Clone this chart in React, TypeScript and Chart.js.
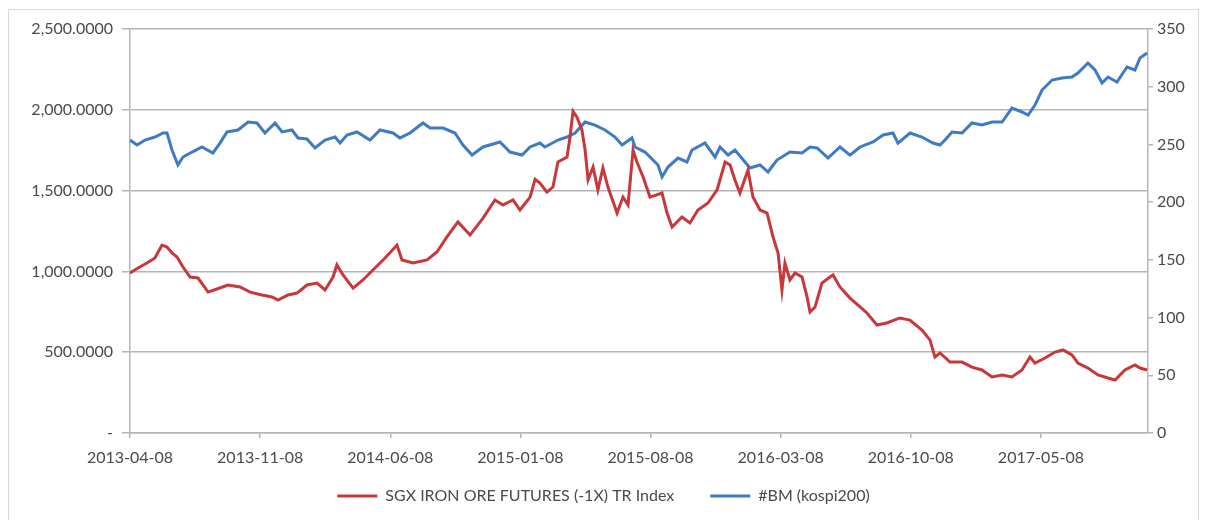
import { useEffect, useRef } from 'react';
import { Chart, registerables } from 'chart.js';

Chart.register(...registerables);

// x positions are months elapsed since 2013-04-08
const xTickMonths = [0, 7, 14, 21, 28, 35, 42, 49];
const xTickLabels = ['2013-04-08', '2013-11-08', '2014-06-08', '2015-01-08', '2015-08-08', '2016-03-08', '2016-10-08', '2017-05-08'];
const xMaxMonths = 54.76;

const leftTickLabels = ['-', '500.0000', '1,000.0000', '1,500.0000', '2,000.0000', '2,500.0000'];
const rightTickLabels = ['0', '50', '100', '150', '200', '250', '300', '350'];

const ironLabel = 'SGX IRON ORE FUTURES (-1X) TR Index';
const ironMonths = [
  0, 0.43, 0.91, 1.34, 1.72, 1.99, 2.26, 2.53, 2.85, 3.23, 3.66, 4.2, 4.68, 5.27, 5.92, 6.46, 7.1, 7.64, 7.96, 8.5,
  8.98, 9.52, 10.06, 10.49, 10.92, 11.13, 11.46, 12.0, 12.53, 13.07, 13.72, 14.36, 14.63, 15.22, 15.98, 16.51, 17.05,
  17.64, 18.29, 18.99, 19.63, 20.06, 20.6, 20.98, 21.52, 21.79, 22.05, 22.43, 22.75, 23.02, 23.51, 23.67, 23.83, 24.04,
  24.31, 24.48, 24.64, 24.91, 25.17, 25.44, 25.71, 26.2, 26.52, 26.79, 27.06, 27.27, 27.6, 27.97, 28.62, 28.89, 29.16,
  29.69, 30.12, 30.55, 31.09, 31.58, 32.01, 32.28, 32.54, 32.81, 33.24, 33.51, 33.89, 34.27, 34.59, 34.86, 35.07,
  35.23, 35.5, 35.77, 36.15, 36.42, 36.58, 36.85, 37.22, 37.65, 37.82, 38.19, 38.73, 39.27, 39.64, 40.18, 40.71,
  41.41, 41.95, 42.6, 43.03, 43.3, 43.57, 44.11, 44.76, 45.29, 45.83, 46.37, 46.91, 47.44, 47.98, 48.41, 48.68, 49.22,
  49.76, 50.19, 50.67, 50.99, 51.53, 52.07, 52.61, 52.99, 53.52, 54.06, 54.33, 54.71,
];
const ironValues = [
  990, 1021, 1052, 1083, 1163, 1151, 1114, 1089, 1027, 965, 959, 872, 891, 916, 904, 872, 854, 842, 823, 854,
  866, 916, 928, 885, 965, 1040, 978, 897, 947, 1009, 1083, 1163, 1071, 1052, 1071, 1120, 1213,
  1306, 1225, 1330, 1442, 1411, 1442, 1380, 1460, 1570, 1547, 1491, 1522, 1677, 1708, 1832, 1990, 1955,
  1875, 1751, 1566, 1646, 1504, 1640, 1522, 1361, 1460, 1411, 1751, 1677, 1584, 1460, 1485, 1361, 1275,
  1337, 1300, 1380, 1423, 1504, 1677, 1658, 1566, 1485, 1627, 1460, 1380, 1361, 1213, 1114, 885,
  1052, 947, 990, 965, 842, 749, 780, 928, 965, 978, 904, 835, 780, 743, 668, 681,
  712, 699, 637, 576, 470, 495, 439, 439, 408, 390, 347, 359, 347, 390, 470, 433, 464,
  501, 514, 483, 433, 402, 359, 340, 328, 390, 421, 402, 390,
];

const kospiLabel = '#BM (kospi200)';
const kospiMonths = [
  0, 0.38, 0.81, 1.34, 1.78, 1.99, 2.26, 2.58, 2.85, 3.34, 3.87, 4.46, 4.84, 5.22, 5.81, 6.35, 6.83, 7.26, 7.8, 8.18,
  8.71, 9.04, 9.52, 9.95, 10.49, 11.03, 11.3, 11.67, 12.21, 12.91, 13.45, 14.15, 14.52, 15.06, 15.76, 16.14, 16.84,
  17.48, 17.91, 18.4, 18.99, 19.9, 20.44, 21.09, 21.52, 22.05, 22.32, 23.02, 23.51, 23.94, 24.48, 25.01, 25.55, 26.09,
  26.47, 27.0, 27.17, 27.7, 28.4, 28.62, 28.94, 29.48, 29.96, 30.23, 30.93, 31.47, 31.74, 32.17, 32.54, 33.08, 33.35,
  33.89, 34.32, 34.8, 35.5, 36.15, 36.58, 36.96, 37.55, 38.19, 38.73, 39.27, 39.97, 40.51, 41.04, 41.31, 41.96, 42.6,
  43.19, 43.57, 43.84, 44.22, 44.76, 45.29, 45.83, 46.37, 46.91, 47.44, 47.98, 48.31, 48.68, 49.06, 49.6, 50.13,
  50.67, 50.99, 51.53, 51.91, 52.29, 52.61, 53.09, 53.63, 54.06, 54.33, 54.71,
];
const kospiValues = [
  253.8, 249.5, 253.8, 256.4, 259.9, 259.9, 245.2, 232.2, 239.1, 243.4, 247.8, 242.6, 251.2, 260.8, 262.5, 269.4, 268.6, 259.9, 268.6, 260.8,
  262.5, 255.6, 254.7, 246.9, 253.8, 256.4, 251.2, 258.2, 260.8, 253.8, 262.5, 259.9, 255.6, 259.9, 268.6, 264.2, 264.2,
  259.9, 249.5, 240.8, 247.8, 252.1, 243.4, 240.8, 247.8, 251.2, 247.8, 253.8, 256.4, 259.9, 269.4, 266.8, 262.5, 256.4,
  249.5, 255.6, 247.8, 243.4, 232.2, 221.8, 230.4, 238.2, 234.8, 245.2, 251.2, 239.1, 247.8, 240.8, 245.2, 234.8, 229.6,
  232.2, 226.1, 236.5, 243.4, 242.6, 247.8, 246.9, 238.2, 247.8, 240.8, 247.8, 252.1, 258.2, 259.9, 251.2, 259.9, 256.4,
  251.2, 249.5, 253.8, 260.8, 259.9, 268.6, 266.8, 269.4, 269.4, 281.5, 278.1, 275.5, 284.1, 297.1, 305.8, 307.5,
  308.4, 311.9, 320.5, 314.5, 303.2, 308.4, 304.1, 317.1, 314.5, 324.9, 329.2,
];

const RED = '#C8373A';
const BLUE = '#3E7BC4';
const GRID = '#b5b5b5';
const TEXT = '#4a4a4a';
const FONT = 'Lato';

export default function App() {
  const ref = useRef<HTMLCanvasElement>(null);

  useEffect(() => {
    if (!ref.current) return;
    const chart = new Chart(ref.current, {
      type: 'line',
      data: {
        datasets: [
          {
            label: ironLabel,
            data: ironMonths.map((m, i) => ({ x: m, y: ironValues[i] })),
            borderColor: RED,
            backgroundColor: RED,
            borderWidth: 3,
            pointRadius: 0,
            tension: 0,
            yAxisID: 'y',
          },
          {
            label: kospiLabel,
            data: kospiMonths.map((m, i) => ({ x: m, y: kospiValues[i] })),
            borderColor: BLUE,
            backgroundColor: BLUE,
            borderWidth: 3,
            pointRadius: 0,
            tension: 0,
            yAxisID: 'y1',
          },
        ],
      },
      options: {
        animation: false,
        responsive: false,
        layout: { padding: { top: 19, left: 0, right: 0, bottom: 6 } },
        plugins: {
          tooltip: { enabled: false },
          legend: {
            position: 'bottom',
            labels: {
              usePointStyle: true,
              pointStyle: 'line',
              pointStyleWidth: 40,
              padding: 36,
              color: TEXT,
              font: { family: FONT, size: 16 },
            },
          },
        },
        scales: {
          x: {
            type: 'linear',
            min: 0,
            max: xMaxMonths,
            afterBuildTicks: (axis: any) => {
              axis.ticks = xTickMonths.map((v) => ({ value: v }));
            },
            afterFit: (axis: any) => {
              axis.height = 19;
              // let the tick labels draw below the (short) axis box without being clipped
              axis._computeLabelArea = () => undefined;
            },
            grid: { drawOnChartArea: false, drawTicks: true, tickLength: 5, color: GRID, lineWidth: 1.5 },
            border: { display: true, color: GRID, width: 1.5 },
            ticks: {
              autoSkip: false,
              maxRotation: 0,
              padding: 10,
              color: TEXT,
              font: { family: FONT, size: 16 },
              callback: (_v: any, i: number) => xTickLabels[i],
            },
          },
          y: {
            position: 'left',
            min: 0,
            max: 2500,
            afterFit: (axis: any) => {
              axis.width = 121;
            },
            grid: { drawOnChartArea: true, drawTicks: true, tickLength: 8, color: GRID, lineWidth: 1.5 },
            border: { display: true, color: GRID, width: 1.5 },
            ticks: {
              stepSize: 500,
              padding: 9,
              color: TEXT,
              font: { family: FONT, size: 16 },
              callback: (_v: any, i: number) => leftTickLabels[i],
            },
          },
          y1: {
            position: 'right',
            min: 0,
            max: 350,
            afterFit: (axis: any) => {
              axis.width = 50;
            },
            grid: { drawOnChartArea: false, drawTicks: true, tickLength: 5, color: GRID, lineWidth: 1.5 },
            border: { display: true, color: GRID, width: 1.5 },
            ticks: {
              stepSize: 50,
              padding: 4,
              color: TEXT,
              font: { family: FONT, size: 16 },
              callback: (_v: any, i: number) => rightTickLabels[i],
            },
          },
        },
      },
    });
    return () => chart.destroy();
  }, []);

  return (
    <div
      style={{
        width: 1191,
        height: 511,
        marginTop: 1,
        border: '1px solid #d9d9d9',
        borderBottom: 'none',
        boxSizing: 'border-box',
        overflow: 'hidden',
        background: '#fff',
      }}
    >
      <canvas ref={ref} width={1189} height={510} style={{ display: 'block' }} />
    </div>
  );
}
